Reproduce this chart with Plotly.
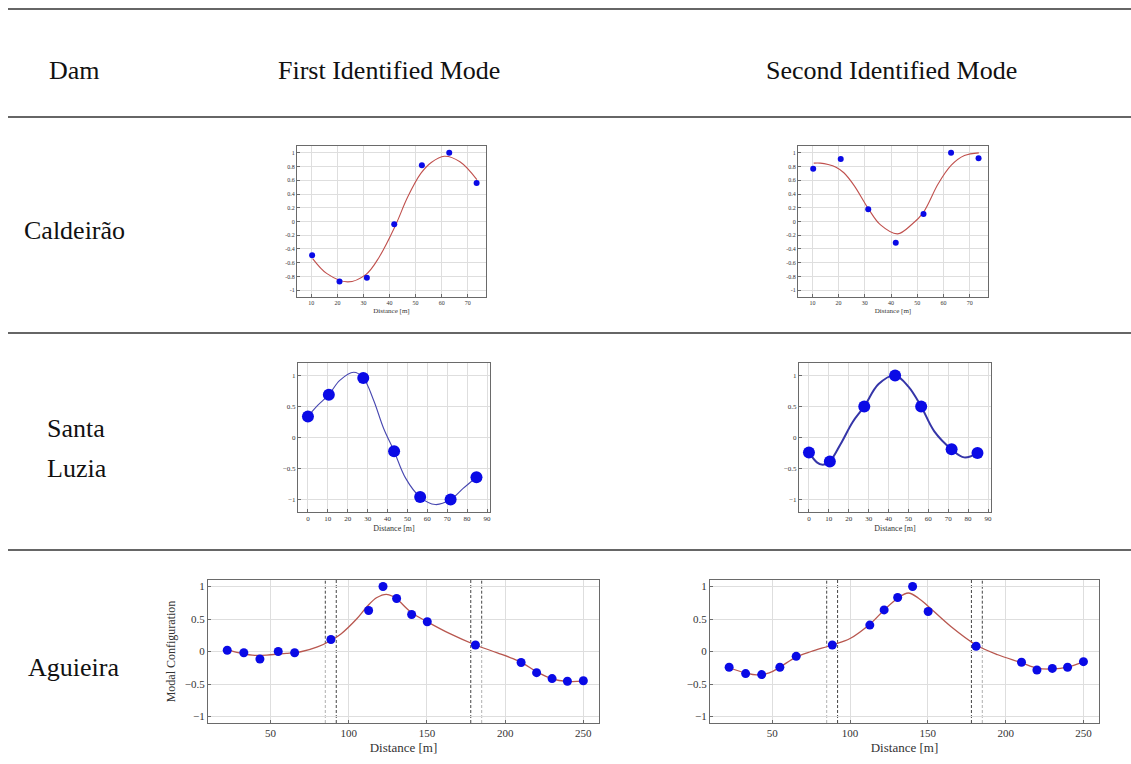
import plotly.graph_objects as go

W, H = 1131, 764

# ---- Caldeirão ----
cal_x = [10.3, 20.8, 31.3, 41.8, 52.4, 62.9, 73.4]
cal_m1 = [-0.49, -0.875, -0.82, -0.04, 0.82, 1.0, 0.56]
cal_m2 = [0.77, 0.91, 0.18, -0.31, 0.11, 1.0, 0.92]
cal_fit1_x = [10.5, 16, 24, 31, 36, 42, 47, 52, 56, 61, 67, 73.5]
cal_fit1_y = [-0.54, -0.76, -0.88, -0.77, -0.52, -0.08, 0.36, 0.70, 0.86, 0.95, 0.87, 0.61]
cal_fit2_x = [10.5, 13, 16, 19, 22, 26, 31.3, 36, 42.5, 48, 52.3, 58, 63, 68, 73.5]
cal_fit2_y = [0.85, 0.85, 0.83, 0.79, 0.71, 0.52, 0.19, -0.05, -0.18, -0.04, 0.13, 0.55, 0.82, 0.96, 1.0]

# ---- Santa Luzia ----
sl_x = [0, 10.5, 27.8, 43.3, 56.4, 71.7, 84.7]
sl_m1 = [0.34, 0.69, 0.96, -0.22, -0.96, -1.0, -0.64]
sl_m2 = [-0.24, -0.385, 0.5, 1.0, 0.5, -0.19, -0.25]
sl_fit1_x = [0, 5, 10.5, 16, 23, 27.8, 33, 38, 43.3, 49, 56.4, 64, 71.7, 78, 84.7]
sl_fit1_y = [0.34, 0.52, 0.69, 0.92, 1.05, 0.96, 0.6, 0.15, -0.22, -0.65, -0.96, -1.08, -1.0, -0.82, -0.64]
sl_fit2_x = [0, 4, 7, 10.5, 16, 22, 27.8, 35, 43.3, 50, 56.4, 63, 71.7, 78, 84.7]
sl_fit2_y = [-0.24, -0.4, -0.44, -0.385, -0.1, 0.25, 0.5, 0.86, 1.0, 0.82, 0.5, 0.1, -0.19, -0.32, -0.25]

# ---- Aguieira ----
ag_x = [22.3, 32.9, 43.2, 54.9, 65.4, 88.6, 112.7, 121.9, 130.6, 140.2, 150.2,
        181.0, 210.2, 220.1, 230.0, 239.8, 250.0]
ag_m1 = [0.02, -0.02, -0.115, 0.0, -0.02, 0.185, 0.63, 1.0, 0.815, 0.57, 0.457,
         0.10, -0.17, -0.325, -0.417, -0.457, -0.45]
ag_m2 = [-0.243, -0.34, -0.355, -0.243, -0.074, 0.10, 0.406, 0.64, 0.83, 1.0, 0.616,
         0.08, -0.166, -0.284, -0.26, -0.243, -0.156]
ag_fit1_x = [22, 30, 40, 50, 60, 70, 80, 88.6, 95, 105, 112, 118, 124, 128, 132,
             140, 150, 165, 181, 195, 205, 212, 220, 230, 240, 250]
ag_fit1_y = [0.03, -0.02, -0.06, -0.05, -0.03, 0.0, 0.07, 0.17, 0.27, 0.5, 0.7, 0.83,
             0.88, 0.85, 0.78, 0.6, 0.46, 0.27, 0.1, -0.02, -0.11, -0.19, -0.31, -0.42, -0.46, -0.455]
ag_fit2_x = [22, 32.9, 40, 48, 55, 65, 75, 88.6, 100, 112.7, 122, 130.6, 137.5,
             144, 150, 165, 181, 195, 210, 220, 230, 240, 250]
ag_fit2_y = [-0.25, -0.33, -0.36, -0.33, -0.24, -0.09, 0.0, 0.1, 0.2, 0.42, 0.64, 0.82, 0.9,
             0.82, 0.7, 0.38, 0.1, -0.05, -0.17, -0.255, -0.27, -0.24, -0.16]
ag_bounds_dark = [92, 178]
ag_bounds_light = [85, 185]
ag_split = 0.12

headers = ["Dam", "First Identified Mode", "Second Identified Mode"]
dams = ["Caldeirão", "Santa", "Luzia", "Aguieira"]

SERIF = "Liberation Serif"
RED = "#c0504d"
BLUE_DOT = "#0a0ae6"
BLUE_LINE = "#4646b0"


def dx(a, b):
    return [a / W, b / W]


def dy(top, bottom):
    return [1 - bottom / H, 1 - top / H]


def axis_style(size, **kw):
    d = dict(showline=True, mirror=True, linecolor="#6a6a6a", linewidth=1,
             showgrid=True, gridcolor="#dedede", gridwidth=1, zeroline=False,
             ticks="inside", ticklen=3, tickcolor="#6a6a6a",
             tickfont=dict(family=SERIF, size=size, color="#333"))
    d.update(kw)
    return d


fig = go.Figure()

panels = [
    # (axis id, point x, point y, fit x, fit y, line colour, line width, marker size)
    ("", cal_x, cal_m1, cal_fit1_x, cal_fit1_y, RED, 1.1, 6),
    ("2", cal_x, cal_m2, cal_fit2_x, cal_fit2_y, RED, 1.1, 6),
    ("3", sl_x, sl_m1, sl_fit1_x, sl_fit1_y, BLUE_LINE, 1.1, 12),
    ("4", sl_x, sl_m2, sl_fit2_x, sl_fit2_y, "#3535a8", 2.0, 12),
    ("5", ag_x, ag_m1, ag_fit1_x, ag_fit1_y, "#b8574f", 1.3, 9),
    ("6", ag_x, ag_m2, ag_fit2_x, ag_fit2_y, "#b8574f", 1.3, 9),
]

shapes = []
# Aguieira structural-joint markers
for ax in ("5", "6"):
    xr, yr = "x" + ax, "y" + ax
    for b in ag_bounds_dark:
        shapes.append(dict(type="line", xref=xr, yref=yr, x0=b, x1=b, y0=-1.1, y1=1.1,
                           line=dict(color="#444", width=1, dash="3px,2px"), layer="below"))
    for b in ag_bounds_light:
        shapes.append(dict(type="line", xref=xr, yref=yr, x0=b, x1=b, y0=ag_split, y1=1.1,
                           line=dict(color="#444", width=1, dash="3px,2px"), layer="below"))
        shapes.append(dict(type="line", xref=xr, yref=yr, x0=b, x1=b, y0=-1.1, y1=ag_split,
                           line=dict(color="#b0b0b0", width=1, dash="3px,2px"), layer="below"))

for ax, px, py, fx, fy, col, lw, ms in panels:
    xr, yr = "x" + ax, "y" + ax
    fig.add_trace(go.Scatter(x=fx, y=fy, mode="lines", xaxis=xr, yaxis=yr,
                             line=dict(color=col, width=lw, shape="spline", smoothing=1.0),
                             hoverinfo="skip", showlegend=False))
    fig.add_trace(go.Scatter(x=px, y=py, mode="markers", xaxis=xr, yaxis=yr,
                             marker=dict(color=BLUE_DOT, size=ms, line=dict(width=0)),
                             showlegend=False))

cal_y_ticks = [1, 0.8, 0.6, 0.4, 0.2, 0, -0.2, -0.4, -0.6, -0.8, -1]
cal_y_text = ["1", "0.8", "0.6", "0.4", "0.2", "0", "-0.2", "-0.4", "-0.6", "-0.8", "-1"]

layout = dict(
    width=W, height=H, margin=dict(l=0, r=0, t=0, b=0),
    paper_bgcolor="white", plot_bgcolor="white", showlegend=False,
    # Caldeirão
    xaxis=axis_style(6, domain=dx(297, 486), range=[4.5, 77], dtick=10, anchor="y",
                     title=dict(text="Distance [m]", font=dict(family=SERIF, size=7, color="#333"), standoff=2)),
    yaxis=axis_style(6, domain=dy(146, 297), range=[-1.1, 1.1], tickvals=cal_y_ticks,
                     ticktext=cal_y_text, anchor="x"),
    xaxis2=axis_style(6, domain=dx(798, 988), range=[4.5, 77], dtick=10, anchor="y2",
                      title=dict(text="Distance [m]", font=dict(family=SERIF, size=7, color="#333"), standoff=2)),
    yaxis2=axis_style(6, domain=dy(146, 297), range=[-1.1, 1.1], tickvals=cal_y_ticks,
                      ticktext=cal_y_text, anchor="x2"),
    # Santa Luzia
    xaxis3=axis_style(7, domain=dx(298, 490), range=[-5, 91.5], dtick=10, anchor="y3",
                      title=dict(text="Distance [m]", font=dict(family=SERIF, size=8, color="#333"), standoff=2)),
    yaxis3=axis_style(7, domain=dy(363, 512), range=[-1.2, 1.2], dtick=0.5, anchor="x3"),
    xaxis4=axis_style(7, domain=dx(799, 991), range=[-5, 91.5], dtick=10, anchor="y4",
                      title=dict(text="Distance [m]", font=dict(family=SERIF, size=8, color="#333"), standoff=2)),
    yaxis4=axis_style(7, domain=dy(363, 512), range=[-1.2, 1.2], dtick=0.5, anchor="x4"),
    # Aguieira
    xaxis5=axis_style(11, domain=dx(208, 599), range=[10, 260], dtick=50, anchor="y5",
                      title=dict(text="Distance [m]", font=dict(family=SERIF, size=13, color="#333"), standoff=4)),
    yaxis5=axis_style(11, domain=dy(580, 723), range=[-1.1, 1.1], dtick=0.5, anchor="x5",
                      title=dict(text="Modal Configuration", font=dict(family=SERIF, size=12, color="#333"), standoff=6)),
    xaxis6=axis_style(11, domain=dx(710, 1099), range=[10, 260], dtick=50, anchor="y6",
                      title=dict(text="Distance [m]", font=dict(family=SERIF, size=13, color="#333"), standoff=4)),
    yaxis6=axis_style(11, domain=dy(580, 723), range=[-1.1, 1.1], dtick=0.5, anchor="x6"),
)

# table rules
for yy in (9, 117, 333, 550):
    shapes.append(dict(type="line", xref="paper", yref="paper", x0=8 / W, x1=1.0,
                       y0=1 - yy / H, y1=1 - yy / H, line=dict(color="#333", width=1.6)))
layout["shapes"] = shapes


def label(text, x, y, anchor="center"):
    return dict(text=text, x=x / W, y=1 - y / H, xref="paper", yref="paper",
                showarrow=False, xanchor=anchor, yanchor="middle",
                font=dict(family=SERIF, size=26, color="#111"))


layout["annotations"] = [
    label(headers[0], 74, 70),
    label(headers[1], 389, 70),
    label(headers[2], 891, 70),
    label(dams[0], 74, 231),
    label(dams[1], 45, 428, "left"),
    label(dams[2], 45, 468, "left"),
    label(dams[3], 73, 667),
]

fig.update_layout(**layout)
fig.write_html("out.html")
